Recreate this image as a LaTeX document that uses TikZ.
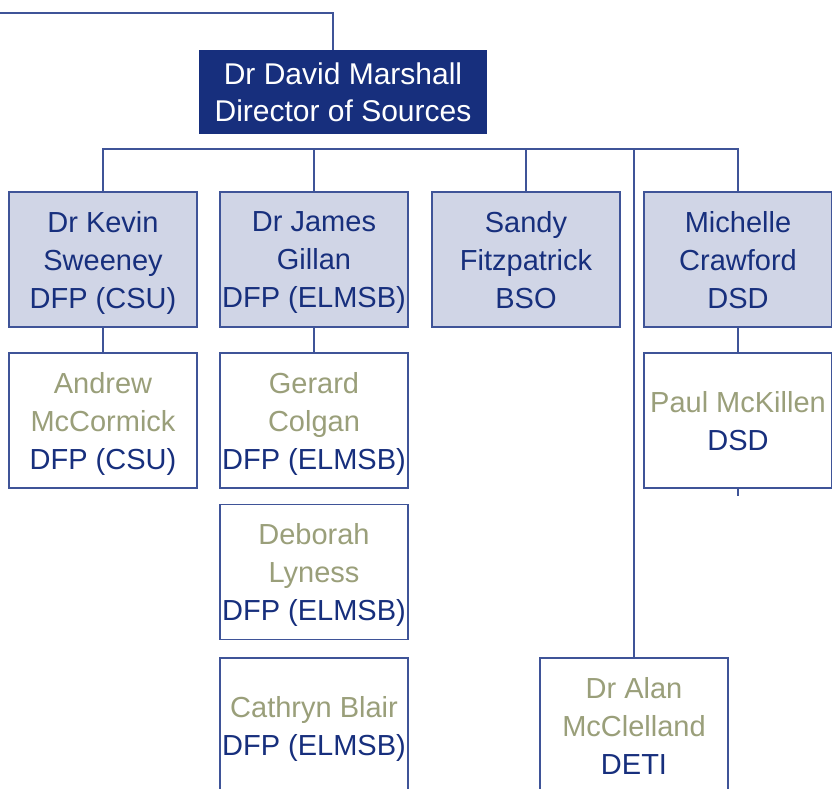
\documentclass[tikz,border=0pt]{standalone}
\usepackage{fontspec}
\newfontfamily\orgfont{Liberation Sans}
\definecolor{orgnavy}{HTML}{172F7D}
\definecolor{orgfill}{HTML}{D0D5E6}
\definecolor{orgsage}{HTML}{9A9F7A}
\definecolor{orgline}{HTML}{3F5498}
\newcommand{\staffname}[1]{\textcolor{orgsage}{#1}}

\begin{document}
\begin{tikzpicture}[x=1pt,y=-1pt]
        \tikzstyle{box}=[rectangle, draw=orgline, line width=1.2pt, minimum width=188pt, minimum height=135pt, inner sep=0pt, text depth=0pt, align=center, text=orgnavy, font={\orgfont\fontsize{29}{38}\selectfont}]
        \tikzstyle{head}=[box, fill=orgfill]
        \tikzstyle{staff}=[box, fill=white]
        \tikzstyle{edge}=[orgline, line width=1.2pt]

        \useasboundingbox (0,0) rectangle (832,789);
        \clip (0,0) rectangle (832,789);

        \node[rectangle, fill=orgnavy, text=white, minimum width=288pt, minimum height=84pt, inner sep=0pt, text depth=0pt, align=center, font={\orgfont\fontsize{30}{37}\selectfont}] (dir) at (343,92) {Dr David Marshall\\Director of Sources};

        \node[head] (kevin)    at (103,259.5)   {Dr Kevin\\Sweeney\\DFP (CSU)};
        \node[head] (james)    at (314,259.5)   {Dr James\\Gillan\\DFP (ELMSB)};
        \node[head] (sandy)    at (526,259.5)   {Sandy\\Fitzpatrick\\BSO};
        \node[head] (michelle) at (738,259.5)   {Michelle\\Crawford\\DSD};

        \node[staff] (andrew)  at (103,420.5)   {\staffname{Andrew}\\\staffname{McCormick}\\DFP (CSU)};
        \node[staff] (gerard)  at (314,420.5)   {\staffname{Gerard}\\\staffname{Colgan}\\DFP (ELMSB)};
        \node[staff] (deborah) at (314,572)     {\staffname{Deborah}\\\staffname{Lyness}\\DFP (ELMSB)};
        \node[staff] (cathryn) at (314,725.5)   {\staffname{Cathryn Blair}\\DFP (ELMSB)};
        \node[staff] (paul)    at (738,420.5)   {\staffname{Paul McKillen}\\DSD};
        \node[staff] (alan)    at (634,725.5)   {\staffname{Dr Alan}\\\staffname{McClelland}\\DETI};

        \coordinate (topl) at (0,13);
        \coordinate (busy) at (0,149);
        \coordinate (stub) at (0,496);

        \draw[edge] (topl) -| ([xshift=-10pt]dir.north);
        \draw[edge] (kevin.north) -- (kevin.north |- busy) -- (michelle.north |- busy) -- (michelle.north);
        \draw[edge] (james.north) -- (james.north |- busy);
        \draw[edge] (sandy.north) -- (sandy.north |- busy);
        \draw[edge] (alan.north) -- (alan.north |- busy);

        \draw[edge] (kevin) -- (andrew);
        \draw[edge] (james) -- (gerard);
        \draw[edge] (michelle) -- (paul);
        \draw[edge] (paul.south) -- (paul.south |- stub);
    \end{tikzpicture}
\end{document}
